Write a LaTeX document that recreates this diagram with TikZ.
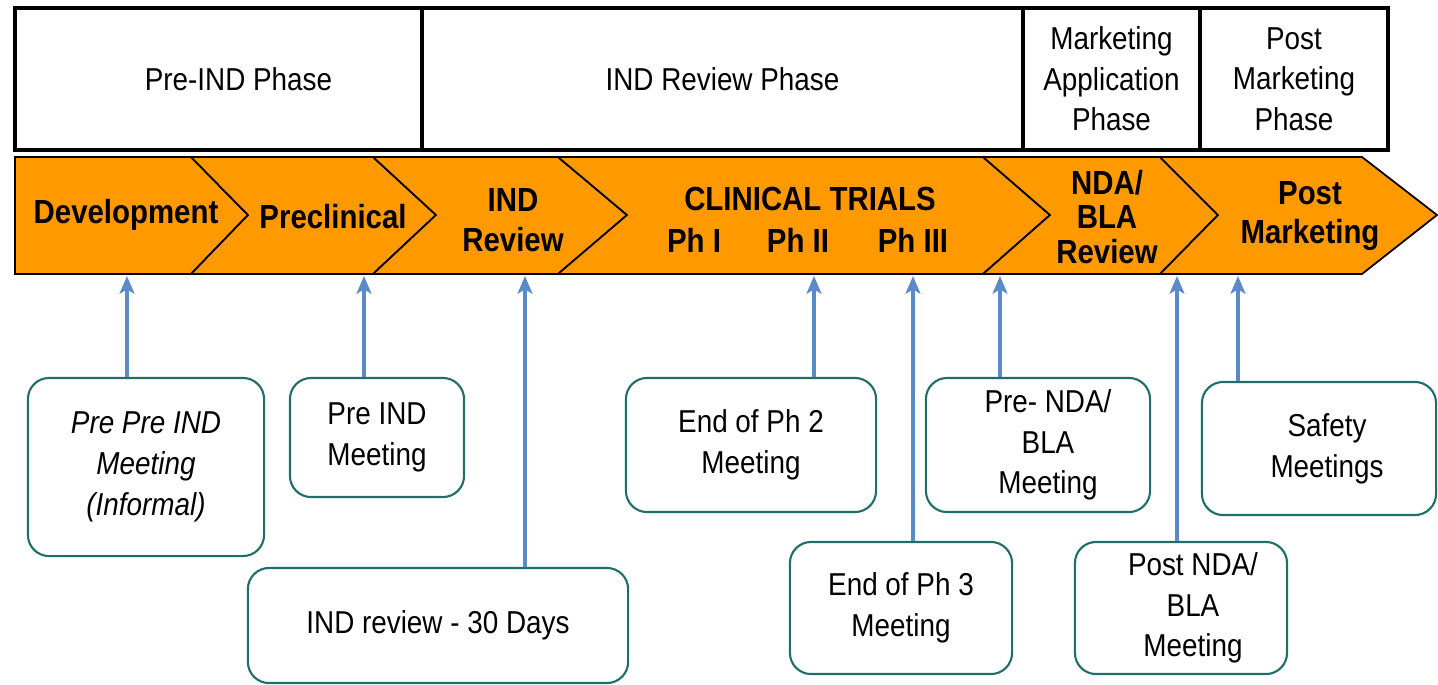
\documentclass[tikz,border=0pt]{standalone}
\usepackage{fontspec}
\setmainfont{Liberation Sans}[FakeStretch=0.88]
\usepackage{xcolor}
\definecolor{stageorange}{HTML}{FF9900}
\definecolor{meetteal}{HTML}{1F6E6A}
\definecolor{linkblue}{HTML}{5B8AC6}
\usepackage{tikz}
\usetikzlibrary{arrows.meta}

\begin{document}
\begin{tikzpicture}[
  x=0.01cm, y=-0.01cm,
  phase/.style={rectangle,draw=black,line width=1.2pt,minimum height=1.42cm,
                align=center,inner sep=0pt,font=\fontsize{9}{11.5}\selectfont},
  stage/.style={align=center,inner sep=0pt,font=\fontsize{9.5}{11.3}\selectfont\bfseries},
  meet/.style ={rectangle,draw=meetteal,line width=0.6pt,rounded corners=6pt,
                align=center,inner sep=0pt,font=\fontsize{9}{11.6}\selectfont},
  link/.style ={-{Stealth[length=5pt,width=4.2pt,inset=1.2pt]},line width=1pt,linkblue}
]
\useasboundingbox (0,0) rectangle (1438,684);

% phase bar
\node[phase,minimum width=4.07cm] (prephase)  at (218.5,79) {\hspace*{0.4cm}Pre-IND Phase};
\node[phase,minimum width=6.01cm] (indphase)  at (722.5,79) {IND Review Phase};
\node[phase,minimum width=1.77cm] (mkphase)   at (1111.5,79) {Marketing\\Application\\Phase};
\node[phase,minimum width=1.88cm] (postphase) at (1294,79) {Post\\Marketing\\Phase};

% chevrons
\foreach \a/\b/\c/\d in {15/15/191/248, 191/248/373/436, 373/436/558/627,
                         558/627/983/1050, 983/1050/1160/1218, 1160/1218/1362/1437}
  \draw[fill=stageorange,line width=0.5pt]
    (\a,157) -- (\c,157) -- (\d,215) -- (\c,274) -- (\a,274) -- (\b,215) -- cycle;

\node[stage] (dev)   at (126,215)  {Development};
\node[stage] (precl) at (333,217)  {Preclinical};
\node[stage] (indr)  at (513,220)  {IND\\Review};
\node[stage] (ct)    at (810,199)  {CLINICAL TRIALS};
\node[stage] (ph1)   at (694,240)  {Ph I};
\node[stage] (ph2)   at (798,240)  {Ph II};
\node[stage] (ph3)   at (913,240)  {Ph III};
\node[stage,font=\fontsize{9.5}{9.9}\selectfont\bfseries] (nda) at (1107,217) {NDA/\\BLA\\Review};
\node[stage] (pm)    at (1310,216) {Post\\Marketing};

% meetings
\node[meet,minimum width=2.36cm,minimum height=1.78cm] (ppi)    at (146,467)    {\itshape Pre Pre IND\\\itshape Meeting\\\itshape (Informal)};
\node[meet,minimum width=1.74cm,minimum height=1.19cm] (pind)   at (377,437.5)  {Pre IND\\Meeting};
\node[meet,minimum width=3.80cm,minimum height=1.15cm] (indrev) at (438,625.5)  {IND review - 30 Days};
\node[meet,minimum width=2.50cm,minimum height=1.34cm] (eph2)   at (751,445)    {End of Ph 2\\Meeting};
\node[meet,minimum width=2.22cm,minimum height=1.32cm] (eph3)   at (901,608)    {End of Ph 3\\Meeting};
\node[meet,minimum width=2.24cm,minimum height=1.34cm] (prenda) at (1038,445)   {\hspace*{0.2cm}Pre- NDA/\\\hspace*{0.2cm}BLA\\\hspace*{0.2cm}Meeting};
\node[meet,minimum width=2.34cm,minimum height=1.33cm] (safety) at (1319,448.5) {\hspace*{0.16cm}Safety\\\hspace*{0.16cm}Meetings};
\node[meet,minimum width=2.12cm,minimum height=1.32cm] (postnda) at (1181,608)  {\hspace*{0.24cm}Post NDA/\\\hspace*{0.24cm}BLA\\\hspace*{0.24cm}Meeting};

% arrow ends on the stage bar
\coordinate (t1) at (127,276);
\coordinate (t2) at (364,276);
\coordinate (t3) at (525,276);
\coordinate (t4) at (814,276);
\coordinate (t5) at (913,276);
\coordinate (t6) at (1000,276);
\coordinate (t7) at (1177,276);
\coordinate (t8) at (1238,276);

\draw[link] (ppi.north -| t1)     -- (t1);
\draw[link] (pind.north -| t2)    -- (t2);
\draw[link] (indrev.north -| t3)  -- (t3);
\draw[link] (eph2.north -| t4)    -- (t4);
\draw[link] (eph3.north -| t5)    -- (t5);
\draw[link] (prenda.north -| t6)  -- (t6);
\draw[link] (postnda.north -| t7) -- (t7);
\draw[link] (safety.north -| t8)  -- (t8);

\end{tikzpicture}
\end{document}
